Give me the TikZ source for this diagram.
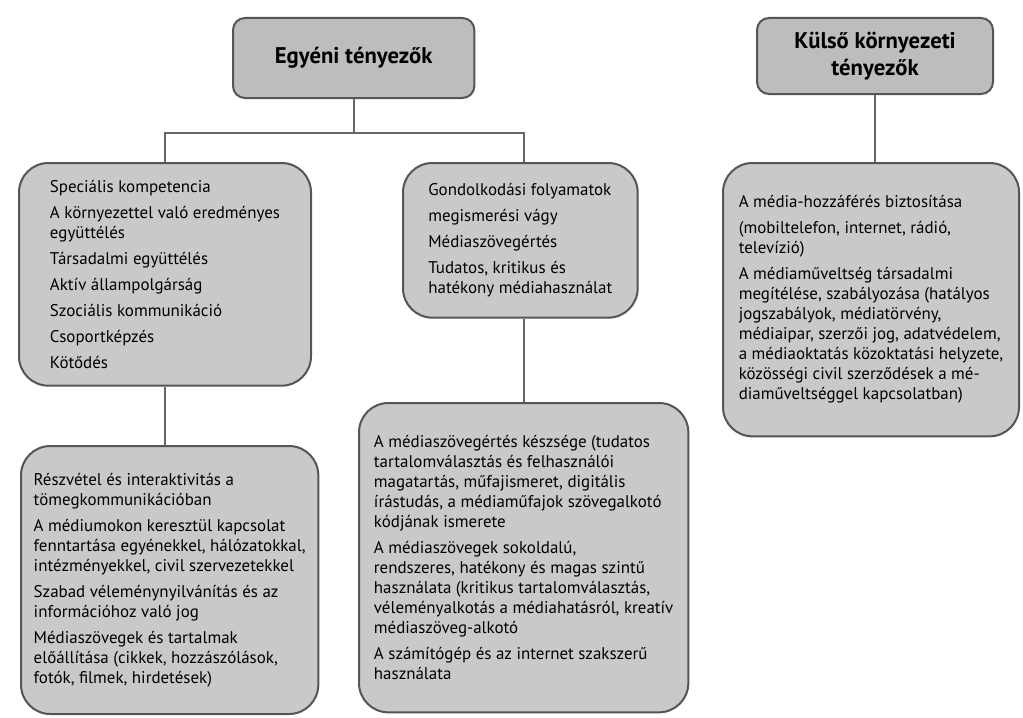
\documentclass[tikz,border=0pt]{standalone}
\usepackage{fontspec}
\setmainfont{PT Sans}
\definecolor{boxfill}{HTML}{C9C9CA}
\definecolor{headfill}{HTML}{BDBDBE}
\definecolor{edge}{HTML}{555555}
\definecolor{conn}{HTML}{666666}
\tikzset{
  content/.style={draw=edge, line width=1.5pt, fill=boxfill, rounded corners=22pt,
    inner sep=0pt, align=left, font=\fontsize{12.7pt}{15pt}\selectfont, anchor=north west},
  header/.style={draw=edge, line width=1.5pt, fill=headfill, rounded corners=9pt,
    inner sep=0pt, align=center, font=\fontsize{17pt}{20pt}\selectfont\bfseries, anchor=north west},
  link/.style={draw=conn, line width=1.3pt}
}
\newcommand{\isep}{\\[4.5pt]}
\begin{document}
\begin{tikzpicture}[x=0.75pt,y=-0.75pt]
\useasboundingbox (0,0) rectangle (1023,717);
% headers
\node[header, minimum width=181pt, minimum height=60pt] (H1) at (232,17) {Egyéni tényezők};
\node[header, minimum width=177pt, minimum height=57pt] (H2) at (756,17) {Külső környezeti\\tényezők};
% content boxes
\node[content, minimum width=219pt, minimum height=167pt] (L1) at (18,162) {%
Speciális kompetencia\isep
A környezettel való eredményes\\ együttélés\isep
Társadalmi együttélés\isep
Aktív állampolgárság\isep
Szociális kommunikáció\isep
Csoportképzés\isep
Kötődés};
\node[content, minimum width=176pt, minimum height=116pt] (M1) at (402,162) {%
Gondolkodási folyamatok\isep
megismerési vágy\isep
Médiaszövegértés\isep
Tudatos, kritikus és\\ hatékony médiahasználat};
\node[content, minimum width=222pt, minimum height=205pt] (R1) at (722,162) {%
A média-hozzáférés biztosítása\isep
(mobiltelefon, internet, rádió,\\ televízió)\isep
A médiaműveltség társadalmi\\ megítélése, szabályozása (hatályos\\ jogszabályok, médiatörvény,\\ médiaipar, szerzői jog, adatvédelem,\\ a médiaoktatás közoktatási helyzete,\\ közösségi civil szerződések a mé-\\ diaműveltséggel kapcsolatban)};
\node[content, minimum width=223pt, minimum height=201pt] (L2) at (20,445) {%
Részvétel és interaktivitás a\\ tömegkommunikációban\isep
A médiumokon keresztül kapcsolat\\ fenntartása egyénekkel, hálózatokkal,\\ intézményekkel, civil szervezetekkel\isep
Szabad véleménynyilvánítás és az\\ információhoz való jog\isep
Médiaszövegek és tartalmak\\ előállítása (cikkek, hozzászólások,\\ fotók, filmek, hirdetések)};
\node[content, minimum width=247pt, minimum height=232pt] (M2) at (358,402) {%
A médiaszövegértés készsége (tudatos\\ tartalomválasztás és felhasználói\\ magatartás, műfajismeret, digitális\\ írástudás, a médiaműfajok szövegalkotó\\ kódjának ismerete\isep
A médiaszövegek sokoldalú,\\ rendszeres, hatékony és magas szintű\\ használata (kritikus tartalomválasztás,\\ véleményalkotás a médiahatásról, kreatív\\ médiaszöveg-alkotó\isep
A számítógép és az internet szakszerű\\ használata};
% connectors
\coordinate (J) at (H1.south |- 0,133);
\draw[link] (H1.south) -- (J);
\draw[link] (L1.north) |- (J) -| ([xshift=3pt]M1.north);
\draw[link] (L1.south) -- (L1.south |- L2.north);
\draw[link] ([xshift=3pt]M1.south) -- ([xshift=3pt]M1.south |- M2.north);
\draw[link] (H2.south) -- (H2.south |- R1.north);
\end{tikzpicture}
\end{document}
